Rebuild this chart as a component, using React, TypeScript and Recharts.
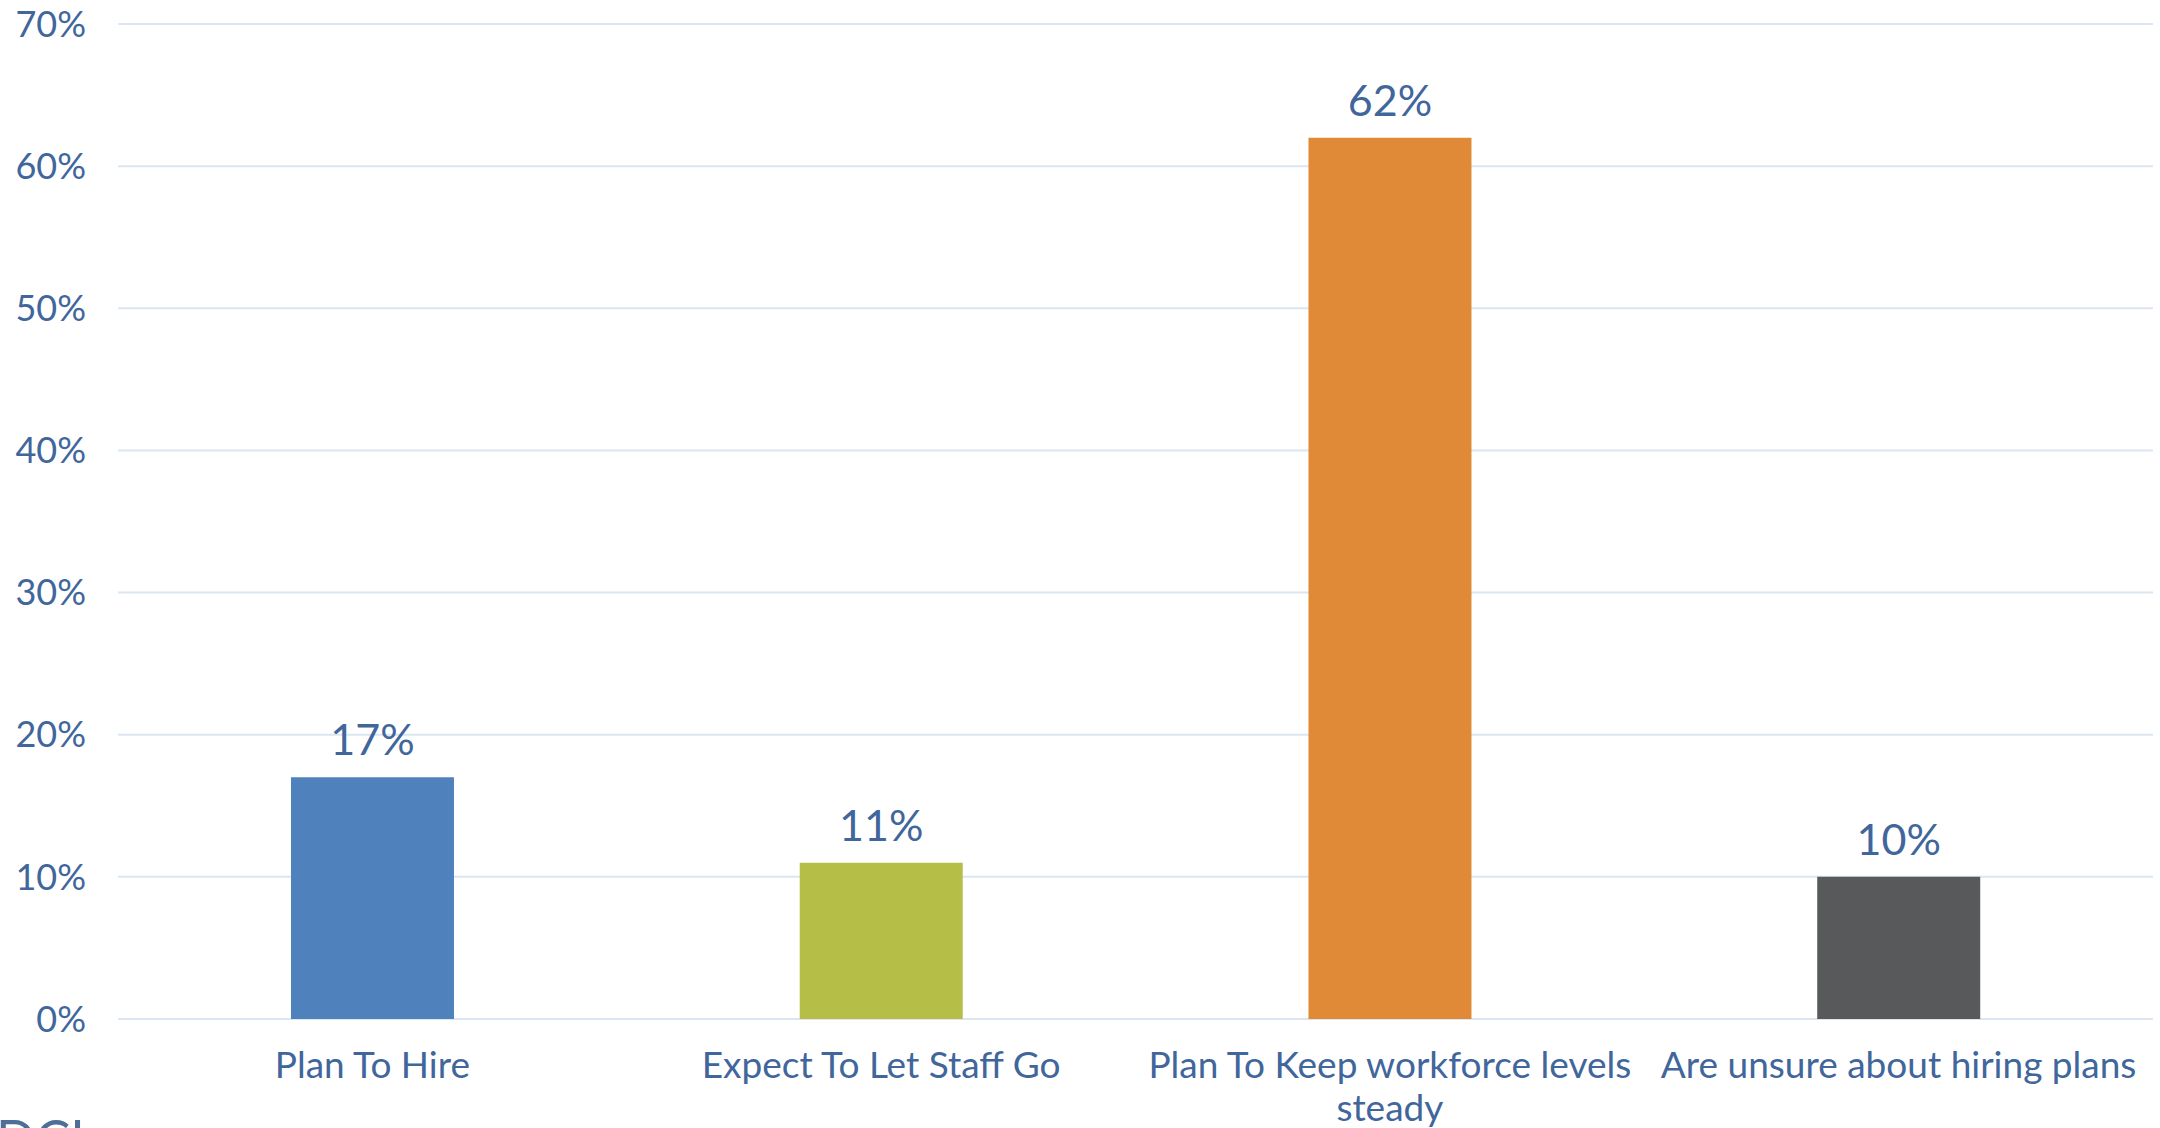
import React from 'react';
import {
  BarChart, Bar, XAxis, YAxis, CartesianGrid, Cell, LabelList,
} from 'recharts';

// ── Data ──────────────────────────────────────────────────────────────────────

const categories = [
  'Plan To Hire',
  'Expect To Let Staff Go',
  'Plan To Keep workforce levels steady',
  'Are unsure about hiring plans',
];
const shares = [17, 11, 62, 10];
const barColors = ['#4F81BD', '#B5BE46', '#E08A38', '#58595B'];
const yTicks = [0, 10, 20, 30, 40, 50, 60, 70];

const data = categories.map((name, i) => ({ name, value: shares[i] }));

const TEXT = '#41669B';
const FONT = 'Lato, "Open Sans", sans-serif';
const MAX_CHARS = 30;

// greedy word wrap, roughly what the band width allows
const wrap = (s: string) => {
  const lines: string[] = [];
  let cur = '';
  s.split(' ').forEach(w => {
    const next = cur ? `${cur} ${w}` : w;
    if (next.length > MAX_CHARS && cur) {
      lines.push(cur);
      cur = w;
    } else {
      cur = next;
    }
  });
  if (cur) lines.push(cur);
  return lines;
};

// ── Ticks / labels ────────────────────────────────────────────────────────────

const CategoryTick = ({ x, y, payload }: any) => (
  <text x={x} y={y} textAnchor="middle" fill={TEXT} fontSize={37} fontFamily={FONT}>
    {wrap(String(payload.value)).map((line, i) => (
      <tspan key={i} x={x} dy={i === 0 ? '0.71em' : 43}>{line}</tspan>
    ))}
  </text>
);

const ValueLabel = ({ x, y, width, value }: any) => (
  <text x={x + width / 2} y={y - 22} fill={TEXT} textAnchor="middle" fontSize={43} fontFamily={FONT}>
    {`${value}%`}
  </text>
);

export default function App() {
  return (
    <div style={{ position: 'absolute', left: 0, top: 0, width: 2160, height: 1128, background: '#fff', overflow: 'hidden' }}>
      <BarChart
        width={2160}
        height={1128}
        data={data}
        margin={{ top: 24, right: 7, bottom: 0, left: 0 }}
        barCategoryGap="34%"
      >
        <CartesianGrid vertical={false} stroke="#DCE6F1" strokeWidth={2} />
        <XAxis
          dataKey="name"
          height={109}
          axisLine={false}
          tickLine={false}
          tickSize={0}
          tickMargin={33}
          interval={0}
          tick={<CategoryTick />}
        />
        <YAxis
          width={118}
          domain={[0, 70]}
          ticks={yTicks}
          axisLine={false}
          tickLine={false}
          tickSize={0}
          tickMargin={32}
          tickFormatter={(v) => `${v}%`}
          tick={{ fill: TEXT, fontSize: 36, fontFamily: FONT }}
        />
        <Bar dataKey="value" isAnimationActive={false}>
          {data.map((_, i) => (
            <Cell key={`cell-${i}`} fill={barColors[i]} />
          ))}
          <LabelList dataKey="value" content={<ValueLabel />} />
        </Bar>
      </BarChart>
      <div style={{ position: 'absolute', left: -4, top: 1112, fontFamily: FONT, fontSize: 52, color: '#4D6E97', lineHeight: 1 }}>
        DCI
      </div>
    </div>
  );
}
